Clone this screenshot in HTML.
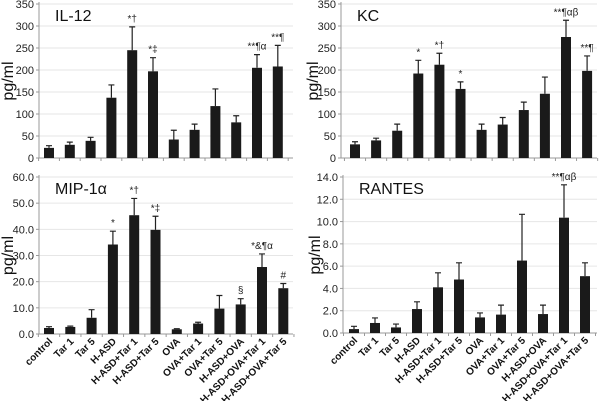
<!DOCTYPE html>
<html><head><meta charset="utf-8">
<style>
html,body{margin:0;padding:0;background:#fff;}
svg{display:block;font-family:"Liberation Sans",Arial,sans-serif;}
</style></head>
<body>
<svg id="chart" width="600" height="401" viewBox="0 0 600 401"></svg>
<script>
const categories = ["control","Tar 1","Tar 5","H-ASD","H-ASD+Tar 1","H-ASD+Tar 5","OVA","OVA+Tar 1","OVA+Tar 5","H-ASD+OVA","H-ASD+OVA+Tar 1","H-ASD+OVA+Tar 5"];
const il12Values = [23,30,39,137,245,197,42,64,118,81,205,208];
const il12ErrTop = [28,36,47,166,298,228,63,77,157,96,235,256];
const il12Marks = ["","","","","*†","*‡","","","","","**¶α","**¶"];
const il12Ticks = [0,50,100,150,200,250,300,350];
const kcValues = [31,40,62,192,212,157,64,76,109,146,275,198];
const kcErrTop = [37,45,77,222,238,173,77,92,127,184,313,232];
const kcMarks = ["","","","*","*†","*","","","","","**¶αβ","**¶"];
const kcTicks = [0,50,100,150,200,250,300,350];
const mipValues = [2.3,2.7,6.2,34.2,45.4,39.8,1.8,4.0,9.7,11.3,25.6,17.5];
const mipErrTop = [2.8,3.0,9.3,39.3,51.8,45.0,2.0,4.5,14.7,13.5,30.6,19.3];
const mipMarks = ["","","","*","*†","*‡","","","","§","*&¶α","#"];
const mipTicks = [0,10,20,30,40,50,60];
const rantesValues = [0.35,0.9,0.5,2.15,4.1,4.8,1.4,1.65,6.5,1.7,10.35,5.1];
const rantesErrTop = [0.6,1.35,0.8,2.8,5.4,6.3,1.8,2.5,10.65,2.5,13.3,6.3];
const rantesMarks = ["","","","","","","","","","","**¶αβ",""];
const rantesTicks = [0,2,4,6,8,10,12,14];

const NS = "http://www.w3.org/2000/svg";
const svg = document.getElementById("chart");
function mk(tag, attrs, parent, text){
  const e = document.createElementNS(NS, tag);
  for (const k in attrs) e.setAttribute(k, attrs[k]);
  if (text !== undefined) e.textContent = text;
  (parent||svg).appendChild(e);
  return e;
}
function panel(cfg){
  const g = mk("g", {});
  
  
  const {ax, right, y0, yTop, max, ticks, dec, values, errTop, marks, title, first, step, showLabels, titleOff} = cfg;
  const yS = v => y0 - (v / max) * (y0 - yTop);
  const xS = i => first + i * step;
  ticks.forEach(t => {
    if (t > 0) {
      const gl = mk("line", {x1:ax, x2:right, y1:yS(t), y2:yS(t), stroke:"#e6e6e6", "stroke-width":1}, g);
      
      
    }
    const tl = mk("text", {x:ax-5, y:yS(t)+4, "text-anchor":"end", "font-size":11, fill:"#222"}, g, dec ? t.toFixed(1) : String(t));
    
    
    mk("line", {x1:ax-3, x2:ax, y1:yS(t), y2:yS(t), stroke:"#999"}, g);
  });
  const yax = mk("line", {x1:ax, x2:ax, y1:yTop-2, y2:y0, stroke:"#999"}, g);
  
  
  const xax = mk("line", {x1:ax, x2:right, y1:y0, y2:y0, stroke:"#999"}, g);
  
  
  for (let i = 0; i <= categories.length; i++) {
    const x = first + (i - 0.5) * step;
    mk("line", {x1:x, x2:x, y1:y0, y2:y0+3, stroke:"#999"}, g);
  }
  const yt = mk("text", {x:0, y:0, transform:`translate(${ax-titleOff},${(y0+yTop)/2}) rotate(-90)`, "text-anchor":"middle", "font-size":16, fill:"#111"}, g, "pg/ml");
  
  
  const tt = mk("text", {x:ax+16, y:yTop+17, "font-size":16, fill:"#111"}, g, title);
  
  
  values.forEach((v, i) => {
    const cx = xS(i), w = 10;
    const b = mk("rect", {x:cx-w/2, y:yS(v), width:w, height:y0-yS(v), fill:"#1a1a1a"}, g);
    
    
    const et = yS(errTop[i]);
    const el = mk("path", {d:`M${cx},${yS(v)}V${et}M${cx-3},${et}H${cx+3}`, stroke:"#222", "stroke-width":1.2, fill:"none"}, g);
    
    
    if (marks[i]) {
      const m = mk("text", {x:cx, y:et-5, "text-anchor":"middle", "font-size":10, fill:"#222"}, g, marks[i]);
      
      
    }
    if (showLabels) {
      const lx = cx + 4, ly = y0 + 8;
      const l = mk("text", {x:lx, y:ly, transform:`rotate(-45 ${lx} ${ly})`, "text-anchor":"end", "font-size":10, "font-weight":"bold", fill:"#111"}, g, categories[i]);
      
      
    }
  });
}
panel({name:"il12", title:"IL-12", ax:39, right:293, y0:158, yTop:4, max:350, ticks:il12Ticks, dec:false, values:il12Values, errTop:il12ErrTop, marks:il12Marks, first:49, step:20.8, showLabels:false, titleOff:26});
panel({name:"kc", title:"KC", ax:341, right:597, y0:158, yTop:4, max:350, ticks:kcTicks, dec:false, values:kcValues, errTop:kcErrTop, marks:kcMarks, first:355, step:21.1, showLabels:false, titleOff:23});
panel({name:"mip", title:"MIP-1α", ax:39, right:293, y0:334, yTop:177, max:60, ticks:mipTicks, dec:true, values:mipValues, errTop:mipErrTop, marks:mipMarks, first:49, step:21.3, showLabels:true, titleOff:26});
panel({name:"rantes", title:"RANTES", ax:343, right:597, y0:333, yTop:177, max:14, ticks:rantesTicks, dec:true, values:rantesValues, errTop:rantesErrTop, marks:rantesMarks, first:354, step:21, showLabels:true, titleOff:23});
</script>
</body></html>
